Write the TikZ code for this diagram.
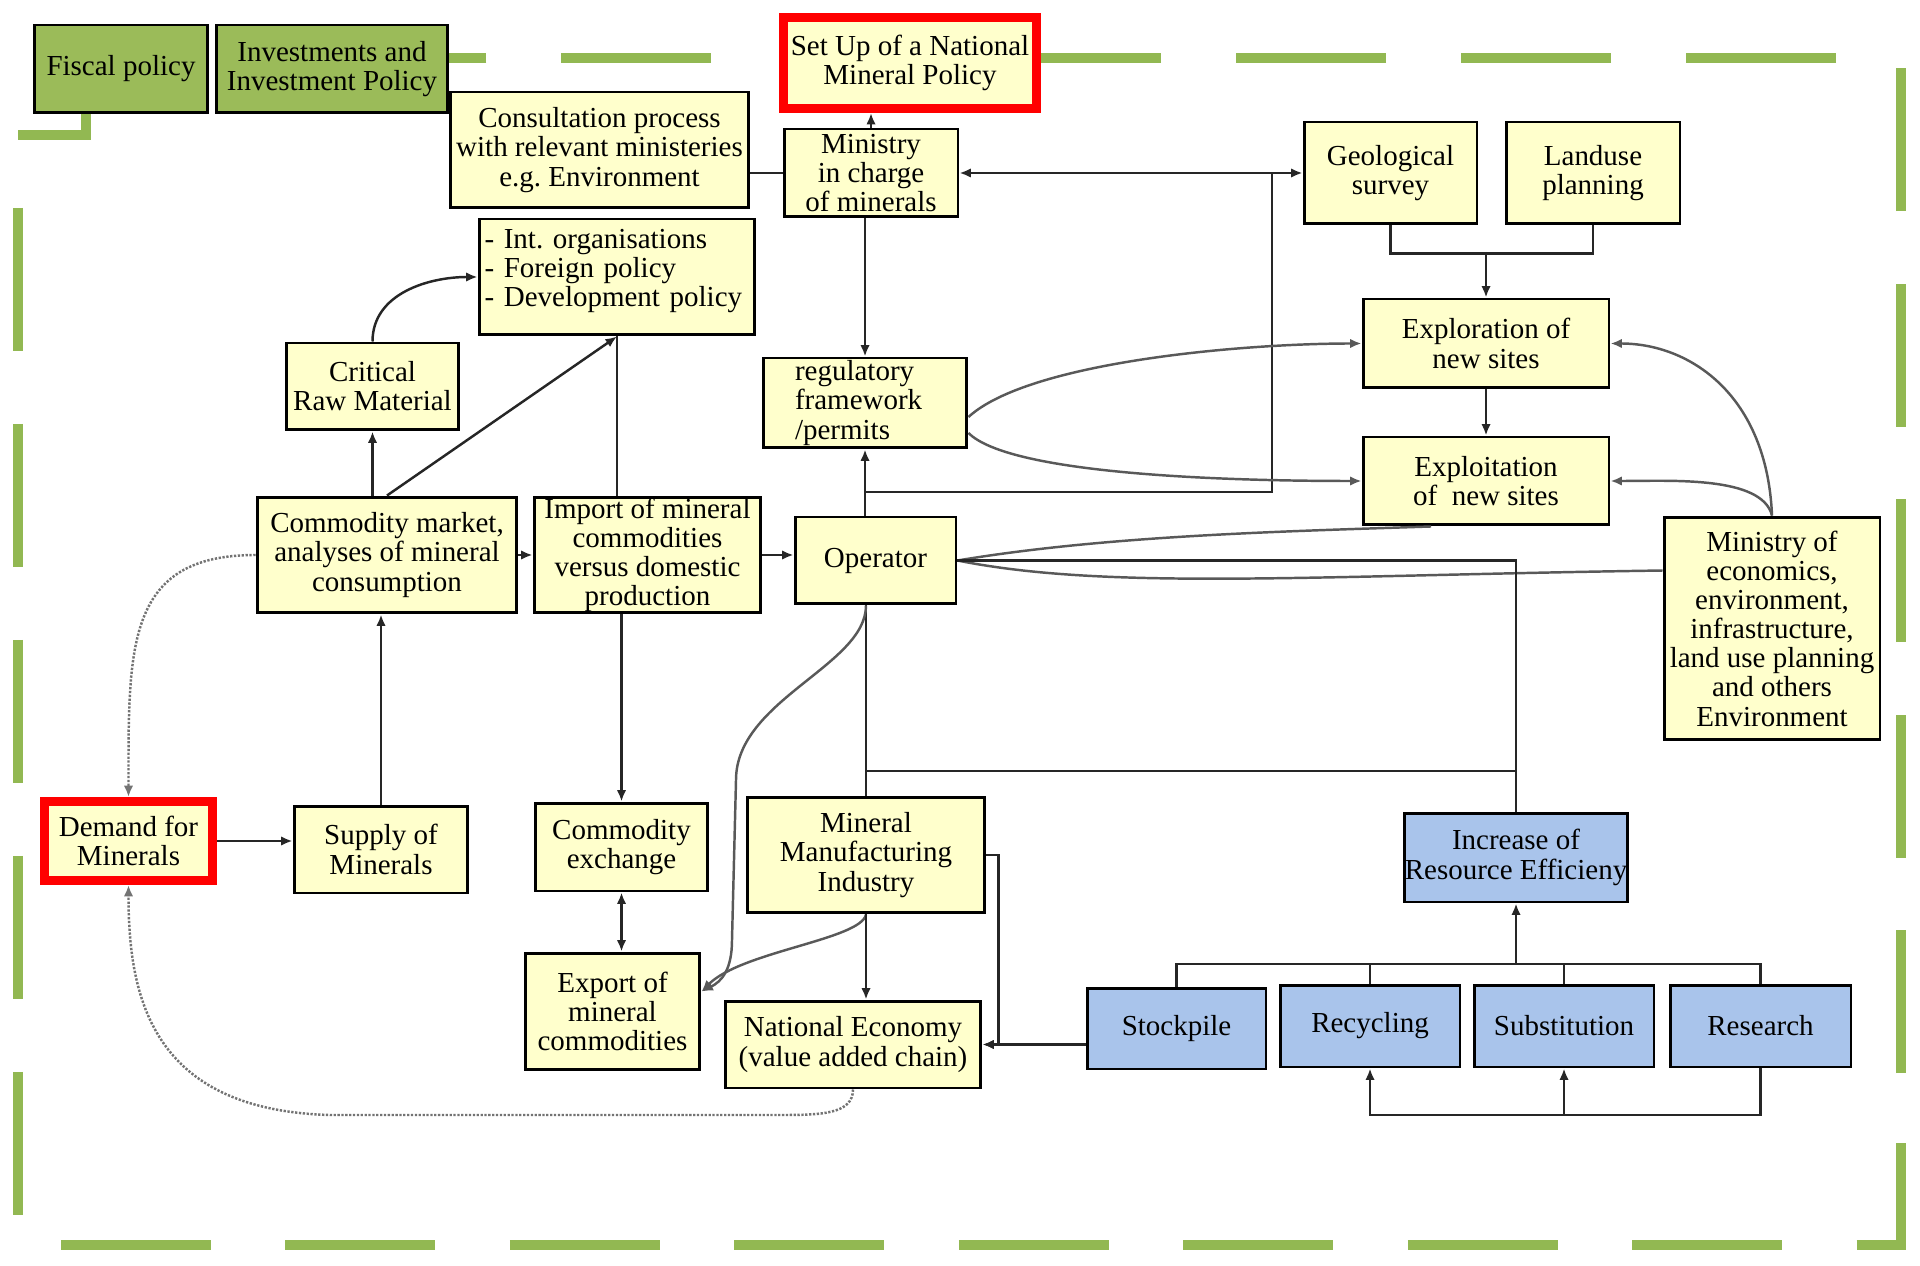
\documentclass[tikz,border=0pt]{standalone}
\usepackage{fontspec}
\setmainfont{Liberation Serif}
\usetikzlibrary{arrows.meta,calc}
\definecolor{boxyellow}{RGB}{255,255,204}
\definecolor{boxblue}{RGB}{169,196,235}
\definecolor{boxgreen}{RGB}{155,187,89}
\definecolor{framegreen}{RGB}{146,184,82}

\begin{document}
\begin{tikzpicture}[x=0.02cm, y=-0.02cm, every node/.style={font=\fontsize{16.5}{16.6}\selectfont}, >={Latex[length=2.3mm,width=1.9mm]}, box/.style={draw=black, line width=1.7pt, fill=boxyellow, inner sep=0pt, align=center}, redbox/.style={box, draw=red, line width=0.18cm}, frame/.style={draw=framegreen, line width=0.21cm}, link/.style={line width=1.4pt, draw=black!85}, curve/.style={line width=1.4pt, draw=black!65}, dots/.style={line width=1.4pt, draw=black!55, dash pattern=on 1.3pt off 0.9pt}]
	\useasboundingbox (0,0) rectangle (1920,1266);
	\draw[frame] (86,111) |- (18,135);
	\draw[frame, dash pattern=on 2.86cm off 1.46cm] (18,208) -- (18,1215);
	\draw[frame, dash pattern=on 3cm off 1.49cm] (61,1245) -- (1901,1245) -- (1901,1143);
	\draw[frame, dash pattern=on 2.86cm off 1.45cm] (1901,1073) -- (1901,67);
	\draw[frame, dash pattern=on 3cm off 1.5cm] (1836,58) -- (340,58);
	\node[box, fill=boxgreen, minimum width=3.48cm, minimum height=1.76cm] (fiscal) at (121,69) {Fiscal policy};
	\node[box, fill=boxgreen, minimum width=4.64cm, minimum height=1.76cm] (invest) at (332,69) {Investments and\\Investment Policy};
	\node[redbox, minimum width=5.06cm, minimum height=1.82cm] (natpol) at (910,63) {Set Up of a National\\Mineral Policy};
	\node[box, minimum width=5.98cm, minimum height=2.32cm] (consult) at (599.5,150) {Consultation process\\with relevant ministeries\\e.g.\ Environment};
	\node[box, minimum width=3.48cm, minimum height=1.76cm] (minmin) at (871,173) {Ministry\\in charge\\of minerals};
	\node[box, minimum width=3.46cm, minimum height=2.04cm] (geo) at (1390.5,173) {Geological\\survey};
	\node[box, minimum width=3.48cm, minimum height=2.04cm] (landuse) at (1593,173) {Landuse\\planning};
	\node[box, minimum width=5.52cm, minimum height=2.32cm, text width=5.3cm, align=left] (intorg) at (617,277) {- Int.\ organisations\\- Foreign policy\\- Development policy\\[-11pt]\strut};
	\node[box, minimum width=3.46cm, minimum height=1.74cm] (critical) at (372.5,386.5) {Critical\\Raw Material};
	\node[box, minimum width=4.08cm, minimum height=1.8cm, text width=2.8cm, align=left] (regul) at (865,403) {regulatory\\framework\\/permits};
	\node[box, minimum width=4.92cm, minimum height=1.78cm] (explor) at (1486,343.5) {Exploration of\\new sites};
	\node[box, minimum width=4.92cm, minimum height=1.76cm] (exploit) at (1486,481) {Exploitation\\of\enspace new sites};
	\node[box, minimum width=5.2cm, minimum height=2.32cm] (cmarket) at (387,555) {Commodity market,\\analyses of mineral\\consumption};
	\node[box, minimum width=4.54cm, minimum height=2.32cm] (import) at (647.5,555) {Import of mineral\\commodities\\versus domestic\\production};
	\node[box, minimum width=3.22cm, minimum height=1.74cm] (operator) at (875.5,560.5) {Operator};
	\node[box, minimum width=4.32cm, minimum height=4.46cm] (minecon) at (1772,628.5) {Ministry of\\economics,\\environment,\\infrastructure,\\land use planning\\and others\\Environment};
	\node[redbox, minimum width=3.36cm, minimum height=1.58cm] (demand) at (128.5,841) {Demand for\\Minerals};
	\node[box, minimum width=3.48cm, minimum height=1.74cm] (supply) at (381,849.5) {Supply of\\Minerals};
	\node[box, minimum width=3.46cm, minimum height=1.76cm] (cexch) at (621.5,847) {Commodity\\exchange};
	\node[box, minimum width=4.76cm, minimum height=2.32cm] (mmi) at (866,855) {Mineral\\Manufacturing\\Industry};
	\node[box, fill=boxblue, minimum width=4.44cm, minimum height=1.78cm] (increase) at (1516,857.5) {Increase of\\Resource Efficieny};
	\node[box, minimum width=3.5cm, minimum height=2.34cm] (export) at (612.5,1011.5) {Export of\\mineral\\commodities};
	\node[box, minimum width=5.12cm, minimum height=1.74cm] (nateco) at (853,1044.5) {National Economy\\(value added chain)};
	\node[box, fill=boxblue, minimum width=3.58cm, minimum height=1.62cm] (stock) at (1176.5,1028.5) {Stockpile};
	\node[box, fill=boxblue, minimum width=3.6cm, minimum height=1.64cm] (recyc) at (1370,1026) {Recycling};
	\node[box, fill=boxblue, minimum width=3.6cm, minimum height=1.64cm] (subst) at (1564,1026) {Substitution};
	\node[box, fill=boxblue, minimum width=3.62cm, minimum height=1.64cm] (research) at (1760.5,1026) {Research};
	\coordinate (jv) at (1272,173);
	\coordinate (jh) at (865,492);
	\coordinate (gl) at (1486,252);
	\coordinate (jm) at (866,771);
	\coordinate (tb) at (1516,964);
	\coordinate (bb) at (1564,1115);
	\draw[link, ->] (minmin.north) -- (minmin.north |- natpol.south);
	\draw[link] (minmin.west -| consult.east) -- (minmin.west);
	\draw[link, <->] (minmin.east) -- (geo.west);
	\draw[link, ->] (minmin.south -| regul.north) -- (regul.north);
	\draw[link] (jv) |- (jh);
	\draw[link] (geo.south) -- ++(0,28) -| (landuse.south);
	\draw[link, ->] (gl) -- (explor.north);
	\draw[link, ->] (explor.south) -- (exploit.north);
	\draw[curve, ->] ([yshift=-0.28cm]regul.east) .. controls +(60,-55) and +(-120,0) .. (explor.west);
	\draw[curve, ->] ([yshift=-0.6cm]regul.east) .. controls +(40,40) and +(-150,0) .. (exploit.west);
	\draw[curve, ->] (minecon.north) .. controls +(-5,-120) and +(80,0) .. (explor.east);
	\draw[curve, ->] (minecon.north) .. controls +(-10,-40) and +(60,0) .. (exploit.east);
	\draw[curve] ([yshift=1.16cm]minecon.west) .. controls +(-350,5) and +(150,30) .. (operator.east);
	\draw[curve] (operator.east) .. controls +(150,-25) and +(-150,5) .. ([xshift=-1.1cm]exploit.south);
	\draw[link] (operator.east) -| (increase.north);
	\draw[link] (jm) -- (jm -| increase.north);
	\draw[link, ->] (regul.south |- operator.north) -- (regul.south);
	\draw[link] (mmi.north |- operator.south) -- (mmi.north);
	\draw[link, ->] (critical.north) to[out=90, in=180] (intorg.west);
	\draw[link, ->] (cmarket.north -| critical.south) -- (critical.south);
	\draw[link, ->] (cmarket.north) -- (intorg.south);
	\draw[link] (intorg.south) -- (intorg.south |- import.north);
	\draw[link, ->] (cmarket.east) -- (import.west);
	\draw[link, ->] (import.east) -- (import.east -| operator.west);
	\draw[link, ->] (cexch.north |- import.south) -- (cexch.north);
	\draw[link, <->] (cexch.south) -- (cexch.south |- export.north);
	\draw[link, ->] (supply.north) -- (supply.north |- cmarket.south);
	\draw[link, ->] (demand.east) -- (demand.east -| supply.west);
	\draw[dots, ->] (cmarket.west) .. controls +(-130,0) and +(0,-150) .. (demand.north);
	\draw[dots, ->] (nateco.south) .. controls +(0,25) and +(40,0) .. (780,1115) -- (330,1115) .. controls +(-180,-5) and +(0,110) .. (demand.south);
	\draw[curve, ->] (mmi.north |- operator.south) .. controls +(0,60) and +(0,-80) .. (736,780) -- (732,940) .. controls +(0,30) and +(20,-10) .. ([yshift=0.4cm]export.east);
	\draw[curve, ->] (mmi.south) .. controls +(-5,25) and +(40,-40) .. ([yshift=0.4cm]export.east);
	\draw[link, ->] (mmi.south) -- (mmi.south |- nateco.north);
	\draw[link, ->] (mmi.east) -- ++(12,0) |- (nateco.east);
	\draw[link, ->] (stock.west |- nateco.east) -- (nateco.east);
	\draw[link, ->] (tb) -- (increase.south);
	\draw[link] (stock.north) -- (stock.north |- tb) -- (research.north |- tb) -- (research.north);
	\draw[link] (recyc.north) -- (recyc.north |- tb);
	\draw[link] (subst.north) -- (subst.north |- tb);
	\draw[link, ->] (research.south) -- (research.south |- bb) -| (recyc.south);
	\draw[link, ->] (bb) -- (subst.south);
\end{tikzpicture}
\end{document}
